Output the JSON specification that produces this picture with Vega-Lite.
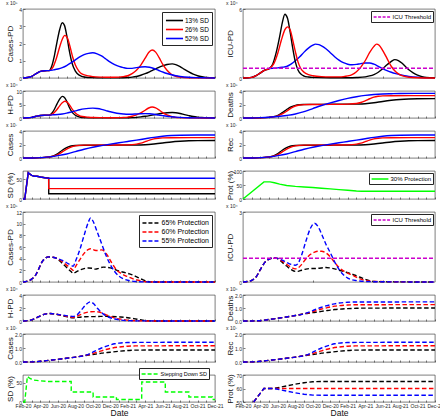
{
"$schema":"https://vega.github.io/schema/vega-lite/v6.json",
"padding":{"left":5,"top":0,"right":0,"bottom":0},
"background":"#ffffff",
"config":{
 "font":"Liberation Sans",
 "view":{"stroke":"#262626","strokeWidth":0.6},
 "axis":{"grid":false,"domain":false,"tickSize":-2,"labelPadding":3.5,"tickColor":"#262626","tickWidth":0.6,"labelFontSize":5,"labelColor":"#262626","titleFontSize":8,"titleFontWeight":"normal","titleColor":"#111111","labelFlush":false,"labelOverlap":false},
 "axisY":{"titleX":-9},
 "title":{"fontSize":5,"fontWeight":"normal","anchor":"start","offset":1,"color":"#262626"},
 "legend":{"fillColor":"#ffffff","strokeColor":"#262626","labelColor":"#000000","titlePadding":0,"symbolStrokeWidth":1.5,"rowPadding":0}
},
"datasets":{
"thr":[{"s":"ICU Threshold","t":0,"v":0.85},{"s":"ICU Threshold","t":22,"v":0.85}],
"A":[
{"s":"13% SD","t":0,"v":0},{"s":"13% SD","t":0.5,"v":0.03},{"s":"13% SD","t":1,"v":0.1},{"s":"13% SD","t":1.5,"v":0.25},{"s":"13% SD","t":2,"v":0.38},{"s":"13% SD","t":2.5,"v":0.42},{"s":"13% SD","t":3,"v":0.43},{"s":"13% SD","t":3.3,"v":0.7},{"s":"13% SD","t":3.6,"v":1.3},{"s":"13% SD","t":3.9,"v":2.1},{"s":"13% SD","t":4.2,"v":2.8},{"s":"13% SD","t":4.5,"v":3.2},{"s":"13% SD","t":4.75,"v":3.05},{"s":"13% SD","t":5,"v":2.5},{"s":"13% SD","t":5.3,"v":1.6},{"s":"13% SD","t":5.6,"v":0.9},{"s":"13% SD","t":6,"v":0.4},{"s":"13% SD","t":6.5,"v":0.15},{"s":"13% SD","t":7,"v":0.06},{"s":"13% SD","t":8,"v":0.02},{"s":"13% SD","t":9,"v":0.01},{"s":"13% SD","t":10,"v":0.01},{"s":"13% SD","t":11,"v":0.01},{"s":"13% SD","t":12,"v":0.03},{"s":"13% SD","t":12.5,"v":0.05},{"s":"13% SD","t":13,"v":0.09},{"s":"13% SD","t":13.5,"v":0.16},{"s":"13% SD","t":14,"v":0.25},{"s":"13% SD","t":14.5,"v":0.36},{"s":"13% SD","t":15,"v":0.48},{"s":"13% SD","t":15.5,"v":0.6},{"s":"13% SD","t":16,"v":0.7},{"s":"13% SD","t":16.5,"v":0.78},{"s":"13% SD","t":17.1,"v":0.82},{"s":"13% SD","t":17.5,"v":0.78},{"s":"13% SD","t":18,"v":0.66},{"s":"13% SD","t":18.5,"v":0.5},{"s":"13% SD","t":19,"v":0.35},{"s":"13% SD","t":19.5,"v":0.22},{"s":"13% SD","t":20,"v":0.13},{"s":"13% SD","t":20.5,"v":0.07},{"s":"13% SD","t":21,"v":0.03},{"s":"13% SD","t":22,"v":0.01},
{"s":"26% SD","t":0,"v":0},{"s":"26% SD","t":0.5,"v":0.03},{"s":"26% SD","t":1,"v":0.1},{"s":"26% SD","t":1.5,"v":0.25},{"s":"26% SD","t":2,"v":0.38},{"s":"26% SD","t":2.5,"v":0.42},{"s":"26% SD","t":3,"v":0.43},{"s":"26% SD","t":3.4,"v":0.6},{"s":"26% SD","t":3.8,"v":1.1},{"s":"26% SD","t":4.2,"v":1.8},{"s":"26% SD","t":4.5,"v":2.25},{"s":"26% SD","t":4.8,"v":2.47},{"s":"26% SD","t":5.1,"v":2.3},{"s":"26% SD","t":5.4,"v":1.8},{"s":"26% SD","t":5.7,"v":1.2},{"s":"26% SD","t":6,"v":0.75},{"s":"26% SD","t":6.4,"v":0.4},{"s":"26% SD","t":6.8,"v":0.22},{"s":"26% SD","t":7.5,"v":0.12},{"s":"26% SD","t":8,"v":0.08},{"s":"26% SD","t":9,"v":0.05},{"s":"26% SD","t":10,"v":0.04},{"s":"26% SD","t":11,"v":0.05},{"s":"26% SD","t":11.5,"v":0.08},{"s":"26% SD","t":12,"v":0.13},{"s":"26% SD","t":12.5,"v":0.25},{"s":"26% SD","t":13,"v":0.45},{"s":"26% SD","t":13.5,"v":0.75},{"s":"26% SD","t":14,"v":1.15},{"s":"26% SD","t":14.4,"v":1.48},{"s":"26% SD","t":14.8,"v":1.62},{"s":"26% SD","t":15.2,"v":1.5},{"s":"26% SD","t":15.6,"v":1.18},{"s":"26% SD","t":16,"v":0.8},{"s":"26% SD","t":16.5,"v":0.45},{"s":"26% SD","t":17,"v":0.22},{"s":"26% SD","t":17.5,"v":0.1},{"s":"26% SD","t":18,"v":0.05},{"s":"26% SD","t":19,"v":0.01},{"s":"26% SD","t":22,"v":0},
{"s":"52% SD","t":0,"v":0},{"s":"52% SD","t":0.5,"v":0.03},{"s":"52% SD","t":1,"v":0.1},{"s":"52% SD","t":1.5,"v":0.25},{"s":"52% SD","t":2,"v":0.38},{"s":"52% SD","t":2.5,"v":0.42},{"s":"52% SD","t":3,"v":0.43},{"s":"52% SD","t":3.5,"v":0.47},{"s":"52% SD","t":4,"v":0.52},{"s":"52% SD","t":4.5,"v":0.6},{"s":"52% SD","t":5,"v":0.72},{"s":"52% SD","t":5.5,"v":0.88},{"s":"52% SD","t":6,"v":1.05},{"s":"52% SD","t":6.5,"v":1.22},{"s":"52% SD","t":7,"v":1.35},{"s":"52% SD","t":7.5,"v":1.43},{"s":"52% SD","t":8,"v":1.46},{"s":"52% SD","t":8.5,"v":1.4},{"s":"52% SD","t":9,"v":1.28},{"s":"52% SD","t":9.5,"v":1.1},{"s":"52% SD","t":10,"v":0.92},{"s":"52% SD","t":10.5,"v":0.78},{"s":"52% SD","t":11,"v":0.67},{"s":"52% SD","t":11.5,"v":0.6},{"s":"52% SD","t":12,"v":0.56},{"s":"52% SD","t":12.5,"v":0.56},{"s":"52% SD","t":13,"v":0.6},{"s":"52% SD","t":13.5,"v":0.64},{"s":"52% SD","t":14,"v":0.65},{"s":"52% SD","t":14.5,"v":0.62},{"s":"52% SD","t":15,"v":0.55},{"s":"52% SD","t":15.5,"v":0.45},{"s":"52% SD","t":16,"v":0.35},{"s":"52% SD","t":16.5,"v":0.26},{"s":"52% SD","t":17,"v":0.19},{"s":"52% SD","t":17.5,"v":0.13},{"s":"52% SD","t":18,"v":0.09},{"s":"52% SD","t":19,"v":0.04},{"s":"52% SD","t":20,"v":0.02},{"s":"52% SD","t":21,"v":0.01},{"s":"52% SD","t":22,"v":0}
],
"B":[
{"s":"52% SD","t":0,"v":0},{"s":"52% SD","t":0.5,"v":0.01},{"s":"52% SD","t":1,"v":0.05},{"s":"52% SD","t":1.5,"v":0.2},{"s":"52% SD","t":2,"v":0.45},{"s":"52% SD","t":2.5,"v":0.68},{"s":"52% SD","t":3,"v":0.82},{"s":"52% SD","t":3.5,"v":0.85},{"s":"52% SD","t":4,"v":0.88},{"s":"52% SD","t":4.5,"v":0.93},{"s":"52% SD","t":5,"v":1.0},{"s":"52% SD","t":5.5,"v":1.2},{"s":"52% SD","t":6,"v":1.5},{"s":"52% SD","t":6.5,"v":1.85},{"s":"52% SD","t":7,"v":2.25},{"s":"52% SD","t":7.5,"v":2.6},{"s":"52% SD","t":8,"v":2.85},{"s":"52% SD","t":8.3,"v":2.95},{"s":"52% SD","t":8.7,"v":2.9},{"s":"52% SD","t":9,"v":2.8},{"s":"52% SD","t":9.5,"v":2.55},{"s":"52% SD","t":10,"v":2.2},{"s":"52% SD","t":10.5,"v":1.85},{"s":"52% SD","t":11,"v":1.55},{"s":"52% SD","t":11.5,"v":1.33},{"s":"52% SD","t":12,"v":1.2},{"s":"52% SD","t":12.5,"v":1.15},{"s":"52% SD","t":13,"v":1.18},{"s":"52% SD","t":13.5,"v":1.25},{"s":"52% SD","t":14,"v":1.3},{"s":"52% SD","t":14.5,"v":1.3},{"s":"52% SD","t":15,"v":1.2},{"s":"52% SD","t":15.5,"v":1.02},{"s":"52% SD","t":16,"v":0.82},{"s":"52% SD","t":16.5,"v":0.65},{"s":"52% SD","t":17,"v":0.5},{"s":"52% SD","t":17.5,"v":0.38},{"s":"52% SD","t":18,"v":0.28},{"s":"52% SD","t":18.5,"v":0.2},{"s":"52% SD","t":19,"v":0.14},{"s":"52% SD","t":20,"v":0.06},{"s":"52% SD","t":21,"v":0.02},{"s":"52% SD","t":22,"v":0.01},
{"s":"13% SD","t":0,"v":0},{"s":"13% SD","t":0.5,"v":0.01},{"s":"13% SD","t":1,"v":0.05},{"s":"13% SD","t":1.5,"v":0.2},{"s":"13% SD","t":2,"v":0.45},{"s":"13% SD","t":2.5,"v":0.68},{"s":"13% SD","t":3,"v":0.82},{"s":"13% SD","t":3.4,"v":1.2},{"s":"13% SD","t":3.8,"v":2.2},{"s":"13% SD","t":4.2,"v":3.6},{"s":"13% SD","t":4.5,"v":4.8},{"s":"13% SD","t":4.8,"v":5.55},{"s":"13% SD","t":5.1,"v":5.2},{"s":"13% SD","t":5.4,"v":4.0},{"s":"13% SD","t":5.7,"v":2.6},{"s":"13% SD","t":6,"v":1.4},{"s":"13% SD","t":6.3,"v":0.7},{"s":"13% SD","t":6.7,"v":0.3},{"s":"13% SD","t":7,"v":0.17},{"s":"13% SD","t":7.5,"v":0.09},{"s":"13% SD","t":8,"v":0.05},{"s":"13% SD","t":10,"v":0.02},{"s":"13% SD","t":12,"v":0.02},{"s":"13% SD","t":13,"v":0.04},{"s":"13% SD","t":14,"v":0.1},{"s":"13% SD","t":14.5,"v":0.18},{"s":"13% SD","t":15,"v":0.3},{"s":"13% SD","t":15.5,"v":0.5},{"s":"13% SD","t":16,"v":0.8},{"s":"13% SD","t":16.5,"v":1.15},{"s":"13% SD","t":17,"v":1.45},{"s":"13% SD","t":17.4,"v":1.6},{"s":"13% SD","t":17.8,"v":1.52},{"s":"13% SD","t":18.2,"v":1.3},{"s":"13% SD","t":18.6,"v":1.0},{"s":"13% SD","t":19,"v":0.72},{"s":"13% SD","t":19.5,"v":0.45},{"s":"13% SD","t":20,"v":0.25},{"s":"13% SD","t":20.5,"v":0.12},{"s":"13% SD","t":21,"v":0.05},{"s":"13% SD","t":22,"v":0.01},
{"s":"26% SD","t":0,"v":0},{"s":"26% SD","t":0.5,"v":0.01},{"s":"26% SD","t":1,"v":0.05},{"s":"26% SD","t":1.5,"v":0.2},{"s":"26% SD","t":2,"v":0.45},{"s":"26% SD","t":2.5,"v":0.68},{"s":"26% SD","t":3,"v":0.82},{"s":"26% SD","t":3.5,"v":1.2},{"s":"26% SD","t":4,"v":2.2},{"s":"26% SD","t":4.4,"v":3.3},{"s":"26% SD","t":4.8,"v":4.2},{"s":"26% SD","t":5.1,"v":4.45},{"s":"26% SD","t":5.4,"v":4.2},{"s":"26% SD","t":5.7,"v":3.3},{"s":"26% SD","t":6,"v":2.3},{"s":"26% SD","t":6.3,"v":1.4},{"s":"26% SD","t":6.6,"v":0.85},{"s":"26% SD","t":7,"v":0.5},{"s":"26% SD","t":7.5,"v":0.3},{"s":"26% SD","t":8,"v":0.2},{"s":"26% SD","t":9,"v":0.12},{"s":"26% SD","t":10,"v":0.1},{"s":"26% SD","t":11,"v":0.1},{"s":"26% SD","t":11.5,"v":0.12},{"s":"26% SD","t":12,"v":0.18},{"s":"26% SD","t":12.5,"v":0.3},{"s":"26% SD","t":13,"v":0.55},{"s":"26% SD","t":13.5,"v":0.95},{"s":"26% SD","t":14,"v":1.5},{"s":"26% SD","t":14.5,"v":2.2},{"s":"26% SD","t":15,"v":2.75},{"s":"26% SD","t":15.3,"v":2.95},{"s":"26% SD","t":15.6,"v":2.85},{"s":"26% SD","t":16,"v":2.4},{"s":"26% SD","t":16.5,"v":1.7},{"s":"26% SD","t":17,"v":1.0},{"s":"26% SD","t":17.5,"v":0.55},{"s":"26% SD","t":18,"v":0.28},{"s":"26% SD","t":18.5,"v":0.14},{"s":"26% SD","t":19,"v":0.07},{"s":"26% SD","t":20,"v":0.02},{"s":"26% SD","t":22,"v":0}
],
"C":[
{"s":"13% SD","t":0,"v":0},{"s":"13% SD","t":0.5,"v":0.08},{"s":"13% SD","t":1,"v":0.25},{"s":"13% SD","t":1.5,"v":0.63},{"s":"13% SD","t":2,"v":0.95},{"s":"13% SD","t":2.5,"v":1.05},{"s":"13% SD","t":3,"v":1.08},{"s":"13% SD","t":3.3,"v":1.75},{"s":"13% SD","t":3.6,"v":3.25},{"s":"13% SD","t":3.9,"v":5.25},{"s":"13% SD","t":4.2,"v":7.0},{"s":"13% SD","t":4.5,"v":8.0},{"s":"13% SD","t":4.75,"v":7.6},{"s":"13% SD","t":5,"v":6.25},{"s":"13% SD","t":5.3,"v":4.0},{"s":"13% SD","t":5.6,"v":2.25},{"s":"13% SD","t":6,"v":1.0},{"s":"13% SD","t":6.5,"v":0.38},{"s":"13% SD","t":7,"v":0.15},{"s":"13% SD","t":8,"v":0.05},{"s":"13% SD","t":10,"v":0.03},{"s":"13% SD","t":11,"v":0.03},{"s":"13% SD","t":12,"v":0.08},{"s":"13% SD","t":12.5,"v":0.13},{"s":"13% SD","t":13,"v":0.23},{"s":"13% SD","t":13.5,"v":0.4},{"s":"13% SD","t":14,"v":0.63},{"s":"13% SD","t":14.5,"v":0.9},{"s":"13% SD","t":15,"v":1.2},{"s":"13% SD","t":15.5,"v":1.5},{"s":"13% SD","t":16,"v":1.75},{"s":"13% SD","t":16.5,"v":1.95},{"s":"13% SD","t":17.1,"v":2.05},{"s":"13% SD","t":17.5,"v":1.95},{"s":"13% SD","t":18,"v":1.65},{"s":"13% SD","t":18.5,"v":1.25},{"s":"13% SD","t":19,"v":0.88},{"s":"13% SD","t":19.5,"v":0.55},{"s":"13% SD","t":20,"v":0.33},{"s":"13% SD","t":20.5,"v":0.18},{"s":"13% SD","t":21,"v":0.08},{"s":"13% SD","t":22,"v":0.03},
{"s":"26% SD","t":0,"v":0},{"s":"26% SD","t":0.5,"v":0.08},{"s":"26% SD","t":1,"v":0.25},{"s":"26% SD","t":1.5,"v":0.63},{"s":"26% SD","t":2,"v":0.95},{"s":"26% SD","t":2.5,"v":1.05},{"s":"26% SD","t":3,"v":1.08},{"s":"26% SD","t":3.4,"v":1.5},{"s":"26% SD","t":3.8,"v":2.75},{"s":"26% SD","t":4.2,"v":4.5},{"s":"26% SD","t":4.5,"v":5.63},{"s":"26% SD","t":4.8,"v":6.2},{"s":"26% SD","t":5.1,"v":5.75},{"s":"26% SD","t":5.4,"v":4.5},{"s":"26% SD","t":5.7,"v":3.0},{"s":"26% SD","t":6,"v":1.88},{"s":"26% SD","t":6.4,"v":1.0},{"s":"26% SD","t":6.8,"v":0.55},{"s":"26% SD","t":7.5,"v":0.3},{"s":"26% SD","t":8,"v":0.2},{"s":"26% SD","t":9,"v":0.13},{"s":"26% SD","t":10,"v":0.1},{"s":"26% SD","t":11,"v":0.13},{"s":"26% SD","t":11.5,"v":0.2},{"s":"26% SD","t":12,"v":0.33},{"s":"26% SD","t":12.5,"v":0.63},{"s":"26% SD","t":13,"v":1.13},{"s":"26% SD","t":13.5,"v":1.88},{"s":"26% SD","t":14,"v":2.88},{"s":"26% SD","t":14.4,"v":3.7},{"s":"26% SD","t":14.8,"v":4.05},{"s":"26% SD","t":15.2,"v":3.75},{"s":"26% SD","t":15.6,"v":2.95},{"s":"26% SD","t":16,"v":2.0},{"s":"26% SD","t":16.5,"v":1.13},{"s":"26% SD","t":17,"v":0.55},{"s":"26% SD","t":17.5,"v":0.25},{"s":"26% SD","t":18,"v":0.13},{"s":"26% SD","t":19,"v":0.03},{"s":"26% SD","t":22,"v":0},
{"s":"52% SD","t":0,"v":0},{"s":"52% SD","t":0.5,"v":0.08},{"s":"52% SD","t":1,"v":0.25},{"s":"52% SD","t":1.5,"v":0.63},{"s":"52% SD","t":2,"v":0.95},{"s":"52% SD","t":2.5,"v":1.05},{"s":"52% SD","t":3,"v":1.08},{"s":"52% SD","t":3.5,"v":1.18},{"s":"52% SD","t":4,"v":1.3},{"s":"52% SD","t":4.5,"v":1.5},{"s":"52% SD","t":5,"v":1.8},{"s":"52% SD","t":5.5,"v":2.2},{"s":"52% SD","t":6,"v":2.63},{"s":"52% SD","t":6.5,"v":3.05},{"s":"52% SD","t":7,"v":3.38},{"s":"52% SD","t":7.5,"v":3.58},{"s":"52% SD","t":8,"v":3.65},{"s":"52% SD","t":8.5,"v":3.5},{"s":"52% SD","t":9,"v":3.2},{"s":"52% SD","t":9.5,"v":2.75},{"s":"52% SD","t":10,"v":2.3},{"s":"52% SD","t":10.5,"v":1.95},{"s":"52% SD","t":11,"v":1.68},{"s":"52% SD","t":11.5,"v":1.5},{"s":"52% SD","t":12,"v":1.4},{"s":"52% SD","t":12.5,"v":1.4},{"s":"52% SD","t":13,"v":1.5},{"s":"52% SD","t":13.5,"v":1.6},{"s":"52% SD","t":14,"v":1.63},{"s":"52% SD","t":14.5,"v":1.55},{"s":"52% SD","t":15,"v":1.38},{"s":"52% SD","t":15.5,"v":1.13},{"s":"52% SD","t":16,"v":0.88},{"s":"52% SD","t":16.5,"v":0.65},{"s":"52% SD","t":17,"v":0.48},{"s":"52% SD","t":17.5,"v":0.33},{"s":"52% SD","t":18,"v":0.23},{"s":"52% SD","t":19,"v":0.1},{"s":"52% SD","t":20,"v":0.05},{"s":"52% SD","t":21,"v":0.03},{"s":"52% SD","t":22,"v":0}
],
"D":[
{"s":"13% SD","t":0,"v":0},{"s":"13% SD","t":1,"v":0.005},{"s":"13% SD","t":2,"v":0.02},{"s":"13% SD","t":3,"v":0.1},{"s":"13% SD","t":3.5,"v":0.2},{"s":"13% SD","t":4,"v":0.4},{"s":"13% SD","t":4.5,"v":0.8},{"s":"13% SD","t":5,"v":1.25},{"s":"13% SD","t":5.5,"v":1.65},{"s":"13% SD","t":6,"v":1.88},{"s":"13% SD","t":6.5,"v":1.97},{"s":"13% SD","t":7,"v":2.0},{"s":"13% SD","t":8,"v":2.02},{"s":"13% SD","t":10,"v":2.03},{"s":"13% SD","t":12,"v":2.05},{"s":"13% SD","t":13,"v":2.07},{"s":"13% SD","t":14,"v":2.12},{"s":"13% SD","t":15,"v":2.25},{"s":"13% SD","t":16,"v":2.45},{"s":"13% SD","t":17,"v":2.62},{"s":"13% SD","t":18,"v":2.75},{"s":"13% SD","t":19,"v":2.82},{"s":"13% SD","t":20,"v":2.85},{"s":"13% SD","t":22,"v":2.87},
{"s":"26% SD","t":0,"v":0},{"s":"26% SD","t":1,"v":0.005},{"s":"26% SD","t":2,"v":0.02},{"s":"26% SD","t":3,"v":0.1},{"s":"26% SD","t":3.5,"v":0.18},{"s":"26% SD","t":4,"v":0.32},{"s":"26% SD","t":4.5,"v":0.6},{"s":"26% SD","t":5,"v":1.0},{"s":"26% SD","t":5.5,"v":1.45},{"s":"26% SD","t":6,"v":1.78},{"s":"26% SD","t":6.5,"v":1.93},{"s":"26% SD","t":7,"v":1.98},{"s":"26% SD","t":8,"v":2.0},{"s":"26% SD","t":10,"v":2.02},{"s":"26% SD","t":12,"v":2.06},{"s":"26% SD","t":13,"v":2.15},{"s":"26% SD","t":13.5,"v":2.3},{"s":"26% SD","t":14,"v":2.55},{"s":"26% SD","t":14.5,"v":2.85},{"s":"26% SD","t":15,"v":3.1},{"s":"26% SD","t":15.5,"v":3.22},{"s":"26% SD","t":16,"v":3.28},{"s":"26% SD","t":17,"v":3.3},{"s":"26% SD","t":22,"v":3.32},
{"s":"52% SD","t":0,"v":0},{"s":"52% SD","t":1,"v":0.01},{"s":"52% SD","t":2,"v":0.05},{"s":"52% SD","t":3,"v":0.12},{"s":"52% SD","t":4,"v":0.22},{"s":"52% SD","t":5,"v":0.38},{"s":"52% SD","t":6,"v":0.6},{"s":"52% SD","t":7,"v":0.95},{"s":"52% SD","t":8,"v":1.4},{"s":"52% SD","t":9,"v":1.85},{"s":"52% SD","t":10,"v":2.25},{"s":"52% SD","t":11,"v":2.6},{"s":"52% SD","t":12,"v":2.9},{"s":"52% SD","t":13,"v":3.15},{"s":"52% SD","t":14,"v":3.35},{"s":"52% SD","t":15,"v":3.48},{"s":"52% SD","t":16,"v":3.56},{"s":"52% SD","t":17,"v":3.6},{"s":"52% SD","t":18,"v":3.63},{"s":"52% SD","t":22,"v":3.65}
],
"E":[
{"s":"13% SD","t":0,"v":0},{"s":"13% SD","t":1,"v":0.01},{"s":"13% SD","t":2,"v":0.05},{"s":"13% SD","t":3,"v":0.15},{"s":"13% SD","t":3.5,"v":0.3},{"s":"13% SD","t":4,"v":0.65},{"s":"13% SD","t":4.5,"v":1.15},{"s":"13% SD","t":5,"v":1.55},{"s":"13% SD","t":5.5,"v":1.78},{"s":"13% SD","t":6,"v":1.85},{"s":"13% SD","t":7,"v":1.88},{"s":"13% SD","t":10,"v":1.9},{"s":"13% SD","t":13,"v":1.92},{"s":"13% SD","t":14,"v":1.97},{"s":"13% SD","t":15,"v":2.08},{"s":"13% SD","t":16,"v":2.22},{"s":"13% SD","t":17,"v":2.38},{"s":"13% SD","t":18,"v":2.48},{"s":"13% SD","t":19,"v":2.55},{"s":"13% SD","t":20,"v":2.58},{"s":"13% SD","t":22,"v":2.6},
{"s":"26% SD","t":0,"v":0},{"s":"26% SD","t":1,"v":0.01},{"s":"26% SD","t":2,"v":0.05},{"s":"26% SD","t":3,"v":0.15},{"s":"26% SD","t":3.5,"v":0.27},{"s":"26% SD","t":4,"v":0.5},{"s":"26% SD","t":4.5,"v":0.9},{"s":"26% SD","t":5,"v":1.3},{"s":"26% SD","t":5.5,"v":1.62},{"s":"26% SD","t":6,"v":1.8},{"s":"26% SD","t":6.5,"v":1.87},{"s":"26% SD","t":7,"v":1.9},{"s":"26% SD","t":10,"v":1.92},{"s":"26% SD","t":12,"v":1.95},{"s":"26% SD","t":12.5,"v":1.98},{"s":"26% SD","t":13,"v":2.05},{"s":"26% SD","t":13.5,"v":2.2},{"s":"26% SD","t":14,"v":2.42},{"s":"26% SD","t":14.5,"v":2.65},{"s":"26% SD","t":15,"v":2.83},{"s":"26% SD","t":15.5,"v":2.93},{"s":"26% SD","t":16,"v":2.98},{"s":"26% SD","t":17,"v":3.0},{"s":"26% SD","t":22,"v":3.02},
{"s":"52% SD","t":0,"v":0},{"s":"52% SD","t":1,"v":0.01},{"s":"52% SD","t":2,"v":0.05},{"s":"52% SD","t":3,"v":0.17},{"s":"52% SD","t":4,"v":0.35},{"s":"52% SD","t":5,"v":0.6},{"s":"52% SD","t":6,"v":0.95},{"s":"52% SD","t":7,"v":1.3},{"s":"52% SD","t":8,"v":1.6},{"s":"52% SD","t":9,"v":1.83},{"s":"52% SD","t":10,"v":2.05},{"s":"52% SD","t":11,"v":2.25},{"s":"52% SD","t":12,"v":2.45},{"s":"52% SD","t":13,"v":2.65},{"s":"52% SD","t":14,"v":2.85},{"s":"52% SD","t":15,"v":3.05},{"s":"52% SD","t":16,"v":3.22},{"s":"52% SD","t":17,"v":3.33},{"s":"52% SD","t":18,"v":3.38},{"s":"52% SD","t":20,"v":3.4},{"s":"52% SD","t":22,"v":3.4}
],
"G":[
{"s":"13% SD","t":0,"v":0},{"s":"13% SD","t":0.2,"v":0},{"s":"13% SD","t":0.6,"v":66},{"s":"13% SD","t":0.8,"v":62},{"s":"13% SD","t":1.0,"v":59},{"s":"13% SD","t":1.3,"v":57},{"s":"13% SD","t":1.6,"v":57},{"s":"13% SD","t":2,"v":55},{"s":"13% SD","t":2.5,"v":53},{"s":"13% SD","t":2.94,"v":52},{"s":"13% SD","t":2.95,"v":13},{"s":"13% SD","t":22,"v":13},
{"s":"26% SD","t":0,"v":0},{"s":"26% SD","t":0.2,"v":0},{"s":"26% SD","t":0.6,"v":66},{"s":"26% SD","t":0.8,"v":62},{"s":"26% SD","t":1.0,"v":59},{"s":"26% SD","t":1.3,"v":57},{"s":"26% SD","t":1.6,"v":57},{"s":"26% SD","t":2,"v":55},{"s":"26% SD","t":2.5,"v":53},{"s":"26% SD","t":2.94,"v":52},{"s":"26% SD","t":2.95,"v":26},{"s":"26% SD","t":22,"v":26},
{"s":"52% SD","t":0,"v":0},{"s":"52% SD","t":0.2,"v":0},{"s":"52% SD","t":0.6,"v":66},{"s":"52% SD","t":0.8,"v":62},{"s":"52% SD","t":1.0,"v":59},{"s":"52% SD","t":1.3,"v":57},{"s":"52% SD","t":1.6,"v":57},{"s":"52% SD","t":2,"v":55},{"s":"52% SD","t":2.5,"v":53},{"s":"52% SD","t":3,"v":52},{"s":"52% SD","t":22,"v":52}
],
"H":[
{"s":"30% Protection","t":0,"v":0},{"s":"30% Protection","t":2.4,"v":61},{"s":"30% Protection","t":3.1,"v":61},{"s":"30% Protection","t":3.6,"v":58},{"s":"30% Protection","t":4.2,"v":53},{"s":"30% Protection","t":5,"v":48},{"s":"30% Protection","t":6,"v":45},{"s":"30% Protection","t":7,"v":43},{"s":"30% Protection","t":8,"v":41},{"s":"30% Protection","t":9,"v":38.5},{"s":"30% Protection","t":10,"v":36},{"s":"30% Protection","t":11,"v":33.5},{"s":"30% Protection","t":12,"v":31},{"s":"30% Protection","t":13,"v":28.5},{"s":"30% Protection","t":13.6,"v":27.5},{"s":"30% Protection","t":22,"v":27.5}
],
"I":[
{"s":"65% Protection","t":0,"v":0},{"s":"65% Protection","t":0.5,"v":0.15},{"s":"65% Protection","t":1,"v":0.5},{"s":"65% Protection","t":1.5,"v":1.3},{"s":"65% Protection","t":1.85,"v":2.4},{"s":"65% Protection","t":2.2,"v":3.5},{"s":"65% Protection","t":2.5,"v":4.0},{"s":"65% Protection","t":2.9,"v":4.3},{"s":"65% Protection","t":3.4,"v":4.25},{"s":"65% Protection","t":3.8,"v":4.1},{"s":"65% Protection","t":4.5,"v":3.2},{"s":"65% Protection","t":5,"v":2.5},{"s":"65% Protection","t":5.5,"v":1.8},{"s":"65% Protection","t":5.75,"v":1.5},{"s":"65% Protection","t":6,"v":1.65},{"s":"65% Protection","t":6.5,"v":2.05},{"s":"65% Protection","t":7,"v":2.3},{"s":"65% Protection","t":7.5,"v":2.4},{"s":"65% Protection","t":8,"v":2.35},{"s":"65% Protection","t":8.3,"v":2.2},{"s":"65% Protection","t":8.7,"v":2.35},{"s":"65% Protection","t":9.2,"v":2.55},{"s":"65% Protection","t":9.7,"v":2.5},{"s":"65% Protection","t":10.2,"v":2.35},{"s":"65% Protection","t":10.7,"v":2.05},{"s":"65% Protection","t":11.2,"v":1.8},{"s":"65% Protection","t":11.7,"v":1.6},{"s":"65% Protection","t":12.2,"v":1.4},{"s":"65% Protection","t":12.7,"v":1.1},{"s":"65% Protection","t":13.2,"v":0.75},{"s":"65% Protection","t":13.7,"v":0.4},{"s":"65% Protection","t":14.2,"v":0.12},{"s":"65% Protection","t":14.6,"v":0.03},{"s":"65% Protection","t":15,"v":0.01},{"s":"65% Protection","t":22,"v":0},
{"s":"60% Protection","t":0,"v":0},{"s":"60% Protection","t":0.5,"v":0.15},{"s":"60% Protection","t":1,"v":0.5},{"s":"60% Protection","t":1.5,"v":1.3},{"s":"60% Protection","t":1.85,"v":2.4},{"s":"60% Protection","t":2.2,"v":3.5},{"s":"60% Protection","t":2.5,"v":4.0},{"s":"60% Protection","t":2.9,"v":4.3},{"s":"60% Protection","t":3.4,"v":4.25},{"s":"60% Protection","t":3.8,"v":4.1},{"s":"60% Protection","t":4.5,"v":3.5},{"s":"60% Protection","t":5,"v":2.9},{"s":"60% Protection","t":5.5,"v":2.3},{"s":"60% Protection","t":5.75,"v":2.0},{"s":"60% Protection","t":6,"v":2.6},{"s":"60% Protection","t":6.5,"v":3.8},{"s":"60% Protection","t":7,"v":4.9},{"s":"60% Protection","t":7.5,"v":5.6},{"s":"60% Protection","t":7.75,"v":5.7},{"s":"60% Protection","t":8.2,"v":5.45},{"s":"60% Protection","t":8.6,"v":5.4},{"s":"60% Protection","t":9,"v":5.5},{"s":"60% Protection","t":9.3,"v":5.3},{"s":"60% Protection","t":9.7,"v":4.5},{"s":"60% Protection","t":10.2,"v":3.2},{"s":"60% Protection","t":10.7,"v":2.1},{"s":"60% Protection","t":11.2,"v":1.5},{"s":"60% Protection","t":11.7,"v":1.1},{"s":"60% Protection","t":12.2,"v":0.8},{"s":"60% Protection","t":12.7,"v":0.5},{"s":"60% Protection","t":13.2,"v":0.3},{"s":"60% Protection","t":13.7,"v":0.12},{"s":"60% Protection","t":14.2,"v":0.04},{"s":"60% Protection","t":15,"v":0.01},{"s":"60% Protection","t":22,"v":0},
{"s":"55% Protection","t":0,"v":0},{"s":"55% Protection","t":0.5,"v":0.15},{"s":"55% Protection","t":1,"v":0.5},{"s":"55% Protection","t":1.5,"v":1.3},{"s":"55% Protection","t":1.85,"v":2.4},{"s":"55% Protection","t":2.2,"v":3.5},{"s":"55% Protection","t":2.5,"v":4.0},{"s":"55% Protection","t":2.9,"v":4.3},{"s":"55% Protection","t":3.4,"v":4.25},{"s":"55% Protection","t":3.8,"v":4.1},{"s":"55% Protection","t":4.5,"v":3.7},{"s":"55% Protection","t":5,"v":3.3},{"s":"55% Protection","t":5.5,"v":2.9},{"s":"55% Protection","t":5.75,"v":2.7},{"s":"55% Protection","t":6,"v":3.5},{"s":"55% Protection","t":6.5,"v":5.5},{"s":"55% Protection","t":7,"v":8.0},{"s":"55% Protection","t":7.5,"v":10.3},{"s":"55% Protection","t":7.75,"v":11.0},{"s":"55% Protection","t":8,"v":10.5},{"s":"55% Protection","t":8.5,"v":8.6},{"s":"55% Protection","t":9,"v":6.6},{"s":"55% Protection","t":9.5,"v":4.6},{"s":"55% Protection","t":10,"v":3.0},{"s":"55% Protection","t":10.5,"v":1.8},{"s":"55% Protection","t":11,"v":1.0},{"s":"55% Protection","t":11.5,"v":0.55},{"s":"55% Protection","t":12,"v":0.3},{"s":"55% Protection","t":12.5,"v":0.15},{"s":"55% Protection","t":13,"v":0.08},{"s":"55% Protection","t":14,"v":0.02},{"s":"55% Protection","t":15,"v":0.01},{"s":"55% Protection","t":22,"v":0}
],
"J":[
{"s":"65% Protection","t":0,"v":0},{"s":"65% Protection","t":0.5,"v":0.02},{"s":"65% Protection","t":1,"v":0.06},{"s":"65% Protection","t":1.5,"v":0.18},{"s":"65% Protection","t":2,"v":0.45},{"s":"65% Protection","t":2.5,"v":0.7},{"s":"65% Protection","t":3,"v":0.82},{"s":"65% Protection","t":3.6,"v":0.86},{"s":"65% Protection","t":4,"v":0.83},{"s":"65% Protection","t":4.5,"v":0.7},{"s":"65% Protection","t":5,"v":0.57},{"s":"65% Protection","t":5.5,"v":0.45},{"s":"65% Protection","t":6,"v":0.38},{"s":"65% Protection","t":6.3,"v":0.38},{"s":"65% Protection","t":6.7,"v":0.42},{"s":"65% Protection","t":7.2,"v":0.46},{"s":"65% Protection","t":7.7,"v":0.48},{"s":"65% Protection","t":8.2,"v":0.48},{"s":"65% Protection","t":8.6,"v":0.49},{"s":"65% Protection","t":9,"v":0.5},{"s":"65% Protection","t":9.5,"v":0.52},{"s":"65% Protection","t":10,"v":0.5},{"s":"65% Protection","t":10.5,"v":0.47},{"s":"65% Protection","t":11,"v":0.42},{"s":"65% Protection","t":11.5,"v":0.38},{"s":"65% Protection","t":12,"v":0.33},{"s":"65% Protection","t":12.5,"v":0.28},{"s":"65% Protection","t":13,"v":0.22},{"s":"65% Protection","t":13.5,"v":0.16},{"s":"65% Protection","t":14,"v":0.1},{"s":"65% Protection","t":14.5,"v":0.05},{"s":"65% Protection","t":15,"v":0.02},{"s":"65% Protection","t":16,"v":0.01},{"s":"65% Protection","t":22,"v":0},
{"s":"60% Protection","t":0,"v":0},{"s":"60% Protection","t":0.5,"v":0.02},{"s":"60% Protection","t":1,"v":0.06},{"s":"60% Protection","t":1.5,"v":0.18},{"s":"60% Protection","t":2,"v":0.45},{"s":"60% Protection","t":2.5,"v":0.7},{"s":"60% Protection","t":3,"v":0.82},{"s":"60% Protection","t":3.6,"v":0.86},{"s":"60% Protection","t":4,"v":0.84},{"s":"60% Protection","t":4.5,"v":0.74},{"s":"60% Protection","t":5,"v":0.63},{"s":"60% Protection","t":5.5,"v":0.53},{"s":"60% Protection","t":6,"v":0.47},{"s":"60% Protection","t":6.3,"v":0.5},{"s":"60% Protection","t":6.7,"v":0.62},{"s":"60% Protection","t":7.2,"v":0.82},{"s":"60% Protection","t":7.7,"v":0.98},{"s":"60% Protection","t":8.2,"v":1.07},{"s":"60% Protection","t":8.6,"v":1.1},{"s":"60% Protection","t":9,"v":1.1},{"s":"60% Protection","t":9.5,"v":1.04},{"s":"60% Protection","t":10,"v":0.9},{"s":"60% Protection","t":10.5,"v":0.7},{"s":"60% Protection","t":11,"v":0.52},{"s":"60% Protection","t":11.5,"v":0.4},{"s":"60% Protection","t":12,"v":0.32},{"s":"60% Protection","t":12.5,"v":0.25},{"s":"60% Protection","t":13,"v":0.17},{"s":"60% Protection","t":13.5,"v":0.1},{"s":"60% Protection","t":14,"v":0.06},{"s":"60% Protection","t":15,"v":0.02},{"s":"60% Protection","t":22,"v":0},
{"s":"55% Protection","t":0,"v":0},{"s":"55% Protection","t":0.5,"v":0.02},{"s":"55% Protection","t":1,"v":0.06},{"s":"55% Protection","t":1.5,"v":0.18},{"s":"55% Protection","t":2,"v":0.45},{"s":"55% Protection","t":2.5,"v":0.7},{"s":"55% Protection","t":3,"v":0.82},{"s":"55% Protection","t":3.6,"v":0.86},{"s":"55% Protection","t":4,"v":0.84},{"s":"55% Protection","t":4.5,"v":0.78},{"s":"55% Protection","t":5,"v":0.7},{"s":"55% Protection","t":5.5,"v":0.63},{"s":"55% Protection","t":6,"v":0.6},{"s":"55% Protection","t":6.3,"v":0.66},{"s":"55% Protection","t":6.7,"v":0.95},{"s":"55% Protection","t":7.2,"v":1.45},{"s":"55% Protection","t":7.7,"v":1.9},{"s":"55% Protection","t":8.2,"v":2.1},{"s":"55% Protection","t":8.6,"v":1.98},{"s":"55% Protection","t":9,"v":1.72},{"s":"55% Protection","t":9.5,"v":1.35},{"s":"55% Protection","t":10,"v":1.05},{"s":"55% Protection","t":10.5,"v":0.72},{"s":"55% Protection","t":11,"v":0.45},{"s":"55% Protection","t":11.5,"v":0.26},{"s":"55% Protection","t":12,"v":0.14},{"s":"55% Protection","t":12.5,"v":0.08},{"s":"55% Protection","t":13,"v":0.05},{"s":"55% Protection","t":14,"v":0.02},{"s":"55% Protection","t":15,"v":0.01},{"s":"55% Protection","t":22,"v":0}
],
"K":[
{"s":"65% Protection","t":0,"v":0},{"s":"65% Protection","t":0.5,"v":0.05},{"s":"65% Protection","t":1,"v":0.18},{"s":"65% Protection","t":1.5,"v":0.45},{"s":"65% Protection","t":2,"v":0.8},{"s":"65% Protection","t":2.5,"v":1.05},{"s":"65% Protection","t":2.9,"v":1.15},{"s":"65% Protection","t":3.4,"v":1.12},{"s":"65% Protection","t":3.8,"v":1.05},{"s":"65% Protection","t":4.3,"v":0.88},{"s":"65% Protection","t":4.8,"v":0.72},{"s":"65% Protection","t":5.3,"v":0.58},{"s":"65% Protection","t":5.75,"v":0.48},{"s":"65% Protection","t":6.2,"v":0.55},{"s":"65% Protection","t":6.7,"v":0.62},{"s":"65% Protection","t":7.2,"v":0.66},{"s":"65% Protection","t":7.7,"v":0.68},{"s":"65% Protection","t":8.2,"v":0.68},{"s":"65% Protection","t":8.7,"v":0.7},{"s":"65% Protection","t":9.2,"v":0.72},{"s":"65% Protection","t":9.7,"v":0.72},{"s":"65% Protection","t":10.2,"v":0.7},{"s":"65% Protection","t":10.7,"v":0.66},{"s":"65% Protection","t":11.2,"v":0.61},{"s":"65% Protection","t":11.7,"v":0.55},{"s":"65% Protection","t":12.2,"v":0.47},{"s":"65% Protection","t":12.7,"v":0.36},{"s":"65% Protection","t":13.2,"v":0.24},{"s":"65% Protection","t":13.7,"v":0.12},{"s":"65% Protection","t":14.2,"v":0.05},{"s":"65% Protection","t":15,"v":0.01},{"s":"65% Protection","t":22,"v":0},
{"s":"60% Protection","t":0,"v":0},{"s":"60% Protection","t":0.5,"v":0.05},{"s":"60% Protection","t":1,"v":0.18},{"s":"60% Protection","t":1.5,"v":0.45},{"s":"60% Protection","t":2,"v":0.8},{"s":"60% Protection","t":2.5,"v":1.05},{"s":"60% Protection","t":2.9,"v":1.15},{"s":"60% Protection","t":3.4,"v":1.12},{"s":"60% Protection","t":3.8,"v":1.05},{"s":"60% Protection","t":4.3,"v":0.92},{"s":"60% Protection","t":4.8,"v":0.78},{"s":"60% Protection","t":5.3,"v":0.64},{"s":"60% Protection","t":5.75,"v":0.55},{"s":"60% Protection","t":6.2,"v":0.75},{"s":"60% Protection","t":6.7,"v":1.05},{"s":"60% Protection","t":7.2,"v":1.3},{"s":"60% Protection","t":7.7,"v":1.42},{"s":"60% Protection","t":8.2,"v":1.45},{"s":"60% Protection","t":8.7,"v":1.38},{"s":"60% Protection","t":9.2,"v":1.15},{"s":"60% Protection","t":9.7,"v":0.85},{"s":"60% Protection","t":10.2,"v":0.6},{"s":"60% Protection","t":10.7,"v":0.4},{"s":"60% Protection","t":11.2,"v":0.28},{"s":"60% Protection","t":11.7,"v":0.18},{"s":"60% Protection","t":12.2,"v":0.1},{"s":"60% Protection","t":13,"v":0.04},{"s":"60% Protection","t":14,"v":0.01},{"s":"60% Protection","t":22,"v":0},
{"s":"55% Protection","t":0,"v":0},{"s":"55% Protection","t":0.5,"v":0.05},{"s":"55% Protection","t":1,"v":0.18},{"s":"55% Protection","t":1.5,"v":0.45},{"s":"55% Protection","t":2,"v":0.8},{"s":"55% Protection","t":2.5,"v":1.05},{"s":"55% Protection","t":2.9,"v":1.15},{"s":"55% Protection","t":3.4,"v":1.12},{"s":"55% Protection","t":3.8,"v":1.05},{"s":"55% Protection","t":4.3,"v":0.95},{"s":"55% Protection","t":4.8,"v":0.85},{"s":"55% Protection","t":5.3,"v":0.76},{"s":"55% Protection","t":5.75,"v":0.7},{"s":"55% Protection","t":6.2,"v":0.95},{"s":"55% Protection","t":6.7,"v":1.7},{"s":"55% Protection","t":7.2,"v":2.5},{"s":"55% Protection","t":7.7,"v":2.95},{"s":"55% Protection","t":8.1,"v":2.65},{"s":"55% Protection","t":8.5,"v":2.0},{"s":"55% Protection","t":9,"v":1.3},{"s":"55% Protection","t":9.5,"v":0.8},{"s":"55% Protection","t":10,"v":0.5},{"s":"55% Protection","t":10.5,"v":0.3},{"s":"55% Protection","t":11,"v":0.18},{"s":"55% Protection","t":12,"v":0.06},{"s":"55% Protection","t":13,"v":0.02},{"s":"55% Protection","t":22,"v":0}
],
"L":[
{"s":"65% Protection","t":0,"v":0},{"s":"65% Protection","t":1,"v":0.005},{"s":"65% Protection","t":1.8,"v":0.02},{"s":"65% Protection","t":2.5,"v":0.07},{"s":"65% Protection","t":3,"v":0.12},{"s":"65% Protection","t":4,"v":0.21},{"s":"65% Protection","t":5,"v":0.31},{"s":"65% Protection","t":6,"v":0.42},{"s":"65% Protection","t":7,"v":0.55},{"s":"65% Protection","t":7.5,"v":0.6},{"s":"65% Protection","t":8,"v":0.64},{"s":"65% Protection","t":8.5,"v":0.69},{"s":"65% Protection","t":9,"v":0.74},{"s":"65% Protection","t":9.5,"v":0.79},{"s":"65% Protection","t":10,"v":0.84},{"s":"65% Protection","t":10.5,"v":0.88},{"s":"65% Protection","t":11,"v":0.91},{"s":"65% Protection","t":12,"v":0.95},{"s":"65% Protection","t":13,"v":0.98},{"s":"65% Protection","t":14,"v":0.99},{"s":"65% Protection","t":22,"v":1.0},
{"s":"60% Protection","t":0,"v":0},{"s":"60% Protection","t":1,"v":0.005},{"s":"60% Protection","t":1.8,"v":0.02},{"s":"60% Protection","t":2.5,"v":0.07},{"s":"60% Protection","t":3,"v":0.12},{"s":"60% Protection","t":4,"v":0.21},{"s":"60% Protection","t":5,"v":0.31},{"s":"60% Protection","t":6,"v":0.42},{"s":"60% Protection","t":7,"v":0.55},{"s":"60% Protection","t":7.5,"v":0.62},{"s":"60% Protection","t":8,"v":0.72},{"s":"60% Protection","t":8.5,"v":0.82},{"s":"60% Protection","t":9,"v":0.92},{"s":"60% Protection","t":9.5,"v":1.0},{"s":"60% Protection","t":10,"v":1.08},{"s":"60% Protection","t":10.5,"v":1.14},{"s":"60% Protection","t":11,"v":1.18},{"s":"60% Protection","t":12,"v":1.23},{"s":"60% Protection","t":13,"v":1.25},{"s":"60% Protection","t":22,"v":1.26},
{"s":"55% Protection","t":0,"v":0},{"s":"55% Protection","t":1,"v":0.005},{"s":"55% Protection","t":1.8,"v":0.02},{"s":"55% Protection","t":2.5,"v":0.07},{"s":"55% Protection","t":3,"v":0.12},{"s":"55% Protection","t":4,"v":0.21},{"s":"55% Protection","t":5,"v":0.31},{"s":"55% Protection","t":6,"v":0.42},{"s":"55% Protection","t":7,"v":0.55},{"s":"55% Protection","t":7.5,"v":0.66},{"s":"55% Protection","t":8,"v":0.8},{"s":"55% Protection","t":8.5,"v":0.94},{"s":"55% Protection","t":9,"v":1.06},{"s":"55% Protection","t":9.5,"v":1.16},{"s":"55% Protection","t":10,"v":1.25},{"s":"55% Protection","t":10.5,"v":1.32},{"s":"55% Protection","t":11,"v":1.38},{"s":"55% Protection","t":12,"v":1.44},{"s":"55% Protection","t":13,"v":1.46},{"s":"55% Protection","t":22,"v":1.47}
],
"M":[
{"s":"65% Protection","t":0,"v":0},{"s":"65% Protection","t":1,"v":0.01},{"s":"65% Protection","t":2,"v":0.05},{"s":"65% Protection","t":3,"v":0.12},{"s":"65% Protection","t":4,"v":0.19},{"s":"65% Protection","t":5,"v":0.27},{"s":"65% Protection","t":6,"v":0.35},{"s":"65% Protection","t":7,"v":0.45},{"s":"65% Protection","t":7.5,"v":0.5},{"s":"65% Protection","t":8,"v":0.54},{"s":"65% Protection","t":8.5,"v":0.58},{"s":"65% Protection","t":9,"v":0.63},{"s":"65% Protection","t":10,"v":0.7},{"s":"65% Protection","t":11,"v":0.77},{"s":"65% Protection","t":12,"v":0.82},{"s":"65% Protection","t":13,"v":0.85},{"s":"65% Protection","t":22,"v":0.86},
{"s":"60% Protection","t":0,"v":0},{"s":"60% Protection","t":1,"v":0.01},{"s":"60% Protection","t":2,"v":0.05},{"s":"60% Protection","t":3,"v":0.12},{"s":"60% Protection","t":4,"v":0.19},{"s":"60% Protection","t":5,"v":0.27},{"s":"60% Protection","t":6,"v":0.35},{"s":"60% Protection","t":7,"v":0.45},{"s":"60% Protection","t":7.5,"v":0.52},{"s":"60% Protection","t":8,"v":0.6},{"s":"60% Protection","t":8.5,"v":0.7},{"s":"60% Protection","t":9,"v":0.8},{"s":"60% Protection","t":9.5,"v":0.89},{"s":"60% Protection","t":10,"v":0.97},{"s":"60% Protection","t":11,"v":1.07},{"s":"60% Protection","t":12,"v":1.13},{"s":"60% Protection","t":13,"v":1.15},{"s":"60% Protection","t":22,"v":1.16},
{"s":"55% Protection","t":0,"v":0},{"s":"55% Protection","t":1,"v":0.01},{"s":"55% Protection","t":2,"v":0.05},{"s":"55% Protection","t":3,"v":0.12},{"s":"55% Protection","t":4,"v":0.19},{"s":"55% Protection","t":5,"v":0.27},{"s":"55% Protection","t":6,"v":0.35},{"s":"55% Protection","t":7,"v":0.45},{"s":"55% Protection","t":7.5,"v":0.55},{"s":"55% Protection","t":8,"v":0.7},{"s":"55% Protection","t":8.5,"v":0.86},{"s":"55% Protection","t":9,"v":1.0},{"s":"55% Protection","t":9.5,"v":1.12},{"s":"55% Protection","t":10,"v":1.22},{"s":"55% Protection","t":10.5,"v":1.3},{"s":"55% Protection","t":11,"v":1.35},{"s":"55% Protection","t":12,"v":1.39},{"s":"55% Protection","t":13,"v":1.4},{"s":"55% Protection","t":22,"v":1.41}
],
"O":[
{"s":"Stepping Down SD","t":0,"v":0},{"s":"Stepping Down SD","t":0.2,"v":0},{"s":"Stepping Down SD","t":0.5,"v":66},{"s":"Stepping Down SD","t":0.8,"v":61},{"s":"Stepping Down SD","t":1.2,"v":57},{"s":"Stepping Down SD","t":2,"v":55},{"s":"Stepping Down SD","t":3,"v":53},{"s":"Stepping Down SD","t":5.52,"v":53},{"s":"Stepping Down SD","t":5.53,"v":26},{"s":"Stepping Down SD","t":8.03,"v":26},{"s":"Stepping Down SD","t":8.04,"v":13},{"s":"Stepping Down SD","t":10.7,"v":13},{"s":"Stepping Down SD","t":10.71,"v":6.5},{"s":"Stepping Down SD","t":13.6,"v":6.5},{"s":"Stepping Down SD","t":13.61,"v":52},{"s":"Stepping Down SD","t":16.3,"v":52},{"s":"Stepping Down SD","t":16.31,"v":26},{"s":"Stepping Down SD","t":19.0,"v":26},{"s":"Stepping Down SD","t":19.01,"v":13},{"s":"Stepping Down SD","t":21.7,"v":13},{"s":"Stepping Down SD","t":21.71,"v":6.5},{"s":"Stepping Down SD","t":22,"v":6.5}
],
"P":[
{"s":"65% Protection","t":1.22,"v":50},{"s":"65% Protection","t":2.4,"v":60},{"s":"65% Protection","t":3.5,"v":60},{"s":"65% Protection","t":4,"v":60.6},{"s":"65% Protection","t":5,"v":61.9},{"s":"65% Protection","t":6,"v":63.2},{"s":"65% Protection","t":7,"v":64.3},{"s":"65% Protection","t":8,"v":65},{"s":"65% Protection","t":9,"v":65.2},{"s":"65% Protection","t":22,"v":65.2},
{"s":"60% Protection","t":1.22,"v":50},{"s":"60% Protection","t":2.4,"v":60},{"s":"60% Protection","t":22,"v":60},
{"s":"55% Protection","t":1.22,"v":50},{"s":"55% Protection","t":2.4,"v":60},{"s":"55% Protection","t":3.5,"v":60},{"s":"55% Protection","t":4,"v":59.4},{"s":"55% Protection","t":5,"v":58.1},{"s":"55% Protection","t":6,"v":56.8},{"s":"55% Protection","t":7,"v":55.7},{"s":"55% Protection","t":8,"v":55.1},{"s":"55% Protection","t":9,"v":55},{"s":"55% Protection","t":22,"v":55}
]
},
"columns":2,
"spacing":{"row":13,"column":28},
"bounds":"flush",
"resolve":{"scale":{"color":"independent"},"legend":{"color":"independent"}},
"concat":[
  {"width":192,"height":69,"title":{"text":"x 10⁵"},"data":{"name":"A"},
   "mark":{"type":"line","interpolate":"monotone","strokeWidth":1.4},
   "encoding":{
    "x":{"field":"t","type":"quantitative","scale":{"domain":[0,22],"nice":false},"axis":{"values":[0,1,2,3,4,5,6,7,8,9,10,11,12,13,14,15,16,17,18,19,20,21,22],"labels":false,"title":null}},
    "y":{"field":"v","type":"quantitative","scale":{"domain":[0,4],"nice":false},"axis":{"values":[0,1,2,3,4],"title":"Cases-PD"}},
    "color":{"field":"s","type":"nominal","scale":{"domain":["13% SD","26% SD","52% SD"],"range":["#000000","#ff0000","#0000ff"]},"legend":{"title":null,"orient":"top-right","offset":3,"labelFontSize":6.5,"padding":3,"symbolType":"M-1.9,0H1.9","symbolSize":81,"symbolOffset":4,"labelOffset":5,"symbolStrokeWidth":1.6}}}},
  {"width":192,"height":69,"title":{"text":"x 10⁴"},
   "layer":[
    {"data":{"name":"B"},"mark":{"type":"line","interpolate":"monotone","strokeWidth":1.4},
     "encoding":{
      "x":{"field":"t","type":"quantitative","scale":{"domain":[0,22],"nice":false},"axis":{"values":[0,1,2,3,4,5,6,7,8,9,10,11,12,13,14,15,16,17,18,19,20,21,22],"labels":false,"title":null}},
      "y":{"field":"v","type":"quantitative","scale":{"domain":[0,6],"nice":false},"axis":{"values":[0,1,2,3,4,5,6],"title":"ICU-PD"}},
      "color":{"field":"s","type":"nominal","scale":{"domain":["13% SD","26% SD","52% SD"],"range":["#000000","#ff0000","#0000ff"]},"legend":null}}},
    {"data":{"name":"thr"},"mark":{"type":"line","strokeDash":[4,2],"strokeWidth":1.4},
     "encoding":{
      "x":{"field":"t","type":"quantitative"},
      "y":{"field":"v","type":"quantitative"},
      "color":{"field":"s","type":"nominal","scale":{"domain":["ICU Threshold"],"range":["#cc00cc"]},"legend":{"title":null,"orient":"top-right","offset":2,"labelFontSize":6,"padding":1.5,"symbolType":"M-2.4,0H2.4","symbolSize":49,"symbolOffset":5,"labelOffset":6,"symbolDash":[3,1.5]}}}}
   ],
   "resolve":{"scale":{"color":"independent"},"legend":{"color":"independent"}}},
  {"width":192,"height":27,"title":{"text":"x 10⁴"},"data":{"name":"C"},
   "mark":{"type":"line","interpolate":"monotone","strokeWidth":1.4},
   "encoding":{
    "x":{"field":"t","type":"quantitative","scale":{"domain":[0,22],"nice":false},"axis":{"values":[0,1,2,3,4,5,6,7,8,9,10,11,12,13,14,15,16,17,18,19,20,21,22],"labels":false,"title":null}},
    "y":{"field":"v","type":"quantitative","scale":{"domain":[0,10],"nice":false},"axis":{"values":[0,5,10],"title":"H-PD"}},
    "color":{"field":"s","type":"nominal","scale":{"domain":["13% SD","26% SD","52% SD"],"range":["#000000","#ff0000","#0000ff"]},"legend":null}}},
  {"width":192,"height":27,"title":{"text":"x 10⁵"},"data":{"name":"D"},
   "mark":{"type":"line","interpolate":"monotone","strokeWidth":1.4},
   "encoding":{
    "x":{"field":"t","type":"quantitative","scale":{"domain":[0,22],"nice":false},"axis":{"values":[0,1,2,3,4,5,6,7,8,9,10,11,12,13,14,15,16,17,18,19,20,21,22],"labels":false,"title":null}},
    "y":{"field":"v","type":"quantitative","scale":{"domain":[0,4],"nice":false},"axis":{"values":[0,2,4],"title":"Deaths"}},
    "color":{"field":"s","type":"nominal","scale":{"domain":["13% SD","26% SD","52% SD"],"range":["#000000","#ff0000","#0000ff"]},"legend":null}}},
  {"width":192,"height":27,"title":{"text":"x 10⁷"},"data":{"name":"E"},
   "mark":{"type":"line","interpolate":"monotone","strokeWidth":1.4},
   "encoding":{
    "x":{"field":"t","type":"quantitative","scale":{"domain":[0,22],"nice":false},"axis":{"values":[0,1,2,3,4,5,6,7,8,9,10,11,12,13,14,15,16,17,18,19,20,21,22],"labels":false,"title":null}},
    "y":{"field":"v","type":"quantitative","scale":{"domain":[0,4],"nice":false},"axis":{"values":[0,2,4],"title":"Cases"}},
    "color":{"field":"s","type":"nominal","scale":{"domain":["13% SD","26% SD","52% SD"],"range":["#000000","#ff0000","#0000ff"]},"legend":null}}},
  {"width":192,"height":27,"title":{"text":"x 10⁷"},"data":{"name":"E"},
   "mark":{"type":"line","interpolate":"monotone","strokeWidth":1.4},
   "encoding":{
    "x":{"field":"t","type":"quantitative","scale":{"domain":[0,22],"nice":false},"axis":{"values":[0,1,2,3,4,5,6,7,8,9,10,11,12,13,14,15,16,17,18,19,20,21,22],"labels":false,"title":null}},
    "y":{"field":"v","type":"quantitative","scale":{"domain":[0,4],"nice":false},"axis":{"values":[0,2,4],"title":"Rec"}},
    "color":{"field":"s","type":"nominal","scale":{"domain":["13% SD","26% SD","52% SD"],"range":["#000000","#ff0000","#0000ff"]},"legend":null}}},
  {"width":192,"height":28,"data":{"name":"G"},
   "mark":{"type":"line","strokeWidth":1.4},
   "encoding":{
    "x":{"field":"t","type":"quantitative","scale":{"domain":[0,22],"nice":false},"axis":{"values":[0,1,2,3,4,5,6,7,8,9,10,11,12,13,14,15,16,17,18,19,20,21,22],"labels":false,"title":null}},
    "y":{"field":"v","type":"quantitative","scale":{"domain":[0,70],"nice":false},"axis":{"values":[0,50],"title":"SD (%)"}},
    "color":{"field":"s","type":"nominal","scale":{"domain":["13% SD","26% SD","52% SD"],"range":["#000000","#ff0000","#0000ff"]},"legend":null}}},
  {"width":192,"height":28,"data":{"name":"H"},
   "mark":{"type":"line","strokeWidth":1.4},
   "encoding":{
    "x":{"field":"t","type":"quantitative","scale":{"domain":[0,22],"nice":false},"axis":{"values":[0,1,2,3,4,5,6,7,8,9,10,11,12,13,14,15,16,17,18,19,20,21,22],"labels":false,"title":null}},
    "y":{"field":"v","type":"quantitative","scale":{"domain":[0,100],"nice":false},"axis":{"values":[0,50,100],"title":"Prot (%)"}},
    "color":{"field":"s","type":"nominal","scale":{"domain":["30% Protection"],"range":["#00ff00"]},"legend":{"title":null,"orient":"top-right","offset":2,"labelFontSize":6,"padding":1.5,"symbolType":"M-2.4,0H2.4","symbolSize":49,"symbolOffset":5,"labelOffset":6}}}},
  {"width":192,"height":70,"title":{"text":"x 10⁵"},"data":{"name":"I"},
   "mark":{"type":"line","interpolate":"monotone","strokeWidth":1.4,"strokeDash":[4.5,2.5]},
   "encoding":{
    "x":{"field":"t","type":"quantitative","scale":{"domain":[0,22],"nice":false},"axis":{"values":[0,1,2,3,4,5,6,7,8,9,10,11,12,13,14,15,16,17,18,19,20,21,22],"labels":false,"title":null}},
    "y":{"field":"v","type":"quantitative","scale":{"domain":[0,12],"nice":false},"axis":{"values":[0,2,4,6,8,10,12],"title":"Cases-PD"}},
    "color":{"field":"s","type":"nominal","scale":{"domain":["65% Protection","60% Protection","55% Protection"],"range":["#000000","#ff0000","#0000ff"]},"legend":{"title":null,"orient":"top-right","offset":3,"labelFontSize":7,"padding":2.5,"symbolType":"M-1.9,0H1.9","symbolSize":81,"symbolOffset":4,"labelOffset":5,"symbolStrokeWidth":1.6,"symbolDash":[4,2]}}}},
  {"width":192,"height":70,"title":{"text":"x 10⁴"},
   "layer":[
    {"data":{"name":"J"},"mark":{"type":"line","interpolate":"monotone","strokeWidth":1.4,"strokeDash":[4.5,2.5]},
     "encoding":{
      "x":{"field":"t","type":"quantitative","scale":{"domain":[0,22],"nice":false},"axis":{"values":[0,1,2,3,4,5,6,7,8,9,10,11,12,13,14,15,16,17,18,19,20,21,22],"labels":false,"title":null}},
      "y":{"field":"v","type":"quantitative","scale":{"domain":[0,2.5],"nice":false},"axis":{"values":[0,0.5,1,1.5,2,2.5],"title":"ICU-PD"}},
      "color":{"field":"s","type":"nominal","scale":{"domain":["65% Protection","60% Protection","55% Protection"],"range":["#000000","#ff0000","#0000ff"]},"legend":null}}},
    {"data":{"name":"thr"},"mark":{"type":"line","strokeDash":[4,2],"strokeWidth":1.4},
     "encoding":{
      "x":{"field":"t","type":"quantitative"},
      "y":{"field":"v","type":"quantitative"},
      "color":{"field":"s","type":"nominal","scale":{"domain":["ICU Threshold"],"range":["#cc00cc"]},"legend":{"title":null,"orient":"top-right","offset":2,"labelFontSize":6,"padding":1.5,"symbolType":"M-2.4,0H2.4","symbolSize":49,"symbolOffset":5,"labelOffset":6,"symbolDash":[3,1.5]}}}}
   ],
   "resolve":{"scale":{"color":"independent"},"legend":{"color":"independent"}}},
  {"width":192,"height":26,"title":{"text":"x 10⁴"},"data":{"name":"K"},
   "mark":{"type":"line","interpolate":"monotone","strokeWidth":1.4,"strokeDash":[4.5,2.5]},
   "encoding":{
    "x":{"field":"t","type":"quantitative","scale":{"domain":[0,22],"nice":false},"axis":{"values":[0,1,2,3,4,5,6,7,8,9,10,11,12,13,14,15,16,17,18,19,20,21,22],"labels":false,"title":null}},
    "y":{"field":"v","type":"quantitative","scale":{"domain":[0,4],"nice":false},"axis":{"values":[0,2,4],"title":"H-PD"}},
    "color":{"field":"s","type":"nominal","scale":{"domain":["65% Protection","60% Protection","55% Protection"],"range":["#000000","#ff0000","#0000ff"]},"legend":null}}},
  {"width":192,"height":26,"title":{"text":"x 10⁵"},"data":{"name":"L"},
   "mark":{"type":"line","interpolate":"monotone","strokeWidth":1.4,"strokeDash":[4.5,2.5]},
   "encoding":{
    "x":{"field":"t","type":"quantitative","scale":{"domain":[0,22],"nice":false},"axis":{"values":[0,1,2,3,4,5,6,7,8,9,10,11,12,13,14,15,16,17,18,19,20,21,22],"labels":false,"title":null}},
    "y":{"field":"v","type":"quantitative","scale":{"domain":[0,2],"nice":false},"axis":{"values":[0,1,2],"title":"Deaths"}},
    "color":{"field":"s","type":"nominal","scale":{"domain":["65% Protection","60% Protection","55% Protection"],"range":["#000000","#ff0000","#0000ff"]},"legend":null}}},
  {"width":192,"height":28,"title":{"text":"x 10⁷"},"data":{"name":"M"},
   "mark":{"type":"line","interpolate":"monotone","strokeWidth":1.4,"strokeDash":[4.5,2.5]},
   "encoding":{
    "x":{"field":"t","type":"quantitative","scale":{"domain":[0,22],"nice":false},"axis":{"values":[0,1,2,3,4,5,6,7,8,9,10,11,12,13,14,15,16,17,18,19,20,21,22],"labels":false,"title":null}},
    "y":{"field":"v","type":"quantitative","scale":{"domain":[0,2],"nice":false},"axis":{"values":[0,1,2],"title":"Cases"}},
    "color":{"field":"s","type":"nominal","scale":{"domain":["65% Protection","60% Protection","55% Protection"],"range":["#000000","#ff0000","#0000ff"]},"legend":null}}},
  {"width":192,"height":28,"title":{"text":"x 10⁷"},"data":{"name":"M"},
   "mark":{"type":"line","interpolate":"monotone","strokeWidth":1.4,"strokeDash":[4.5,2.5]},
   "encoding":{
    "x":{"field":"t","type":"quantitative","scale":{"domain":[0,22],"nice":false},"axis":{"values":[0,1,2,3,4,5,6,7,8,9,10,11,12,13,14,15,16,17,18,19,20,21,22],"labels":false,"title":null}},
    "y":{"field":"v","type":"quantitative","scale":{"domain":[0,2],"nice":false},"axis":{"values":[0,1,2],"title":"Rec"}},
    "color":{"field":"s","type":"nominal","scale":{"domain":["65% Protection","60% Protection","55% Protection"],"range":["#000000","#ff0000","#0000ff"]},"legend":null}}},
  {"width":192,"height":27,"data":{"name":"O"},
   "mark":{"type":"line","strokeWidth":1.4,"strokeDash":[4.5,2.5]},
   "encoding":{
    "x":{"field":"t","type":"quantitative","scale":{"domain":[0,22],"nice":false},"axis":{"values":[0,1,2,3,4,5,6,7,8,9,10,11,12,13,14,15,16,17,18,19,20,21,22],"title":"Date","titleFontSize":8.5,"titlePadding":0,"labelPadding":3,"labelExpr":"datum.value % 2 == 0 ? ['Feb-20','Apr-20','Jun-20','Aug-20','Oct-20','Dec-20','Feb-21','Apr-21','Jun-21','Aug-21','Oct-21','Dec-21'][datum.value / 2] : ''"}},
    "y":{"field":"v","type":"quantitative","scale":{"domain":[0,70],"nice":false},"axis":{"values":[0,50],"title":"SD (%)"}},
    "color":{"field":"s","type":"nominal","scale":{"domain":["Stepping Down SD"],"range":["#00ff00"]},"legend":{"title":null,"orient":"none","legendX":116,"legendY":-7,"labelFontSize":5.5,"padding":1.5,"symbolType":"M-2.4,0H2.4","symbolSize":49,"symbolOffset":5,"labelOffset":6,"symbolDash":[4,2]}}}},
  {"width":192,"height":27,"data":{"name":"P"},
   "mark":{"type":"line","strokeWidth":1.4,"strokeDash":[4.5,2.5]},
   "encoding":{
    "x":{"field":"t","type":"quantitative","scale":{"domain":[0,22],"nice":false},"axis":{"values":[0,1,2,3,4,5,6,7,8,9,10,11,12,13,14,15,16,17,18,19,20,21,22],"title":"Date","titleFontSize":8.5,"titlePadding":0,"labelPadding":3,"labelExpr":"datum.value % 2 == 0 ? ['Feb-20','Apr-20','Jun-20','Aug-20','Oct-20','Dec-20','Feb-21','Apr-21','Jun-21','Aug-21','Oct-21','Dec-21'][datum.value / 2] : ''"}},
    "y":{"field":"v","type":"quantitative","scale":{"domain":[50,70],"nice":false,"zero":false},"axis":{"values":[50,60,70],"title":"Prot (%)"}},
    "color":{"field":"s","type":"nominal","scale":{"domain":["65% Protection","60% Protection","55% Protection"],"range":["#000000","#ff0000","#0000ff"]},"legend":null}}}
]
}
